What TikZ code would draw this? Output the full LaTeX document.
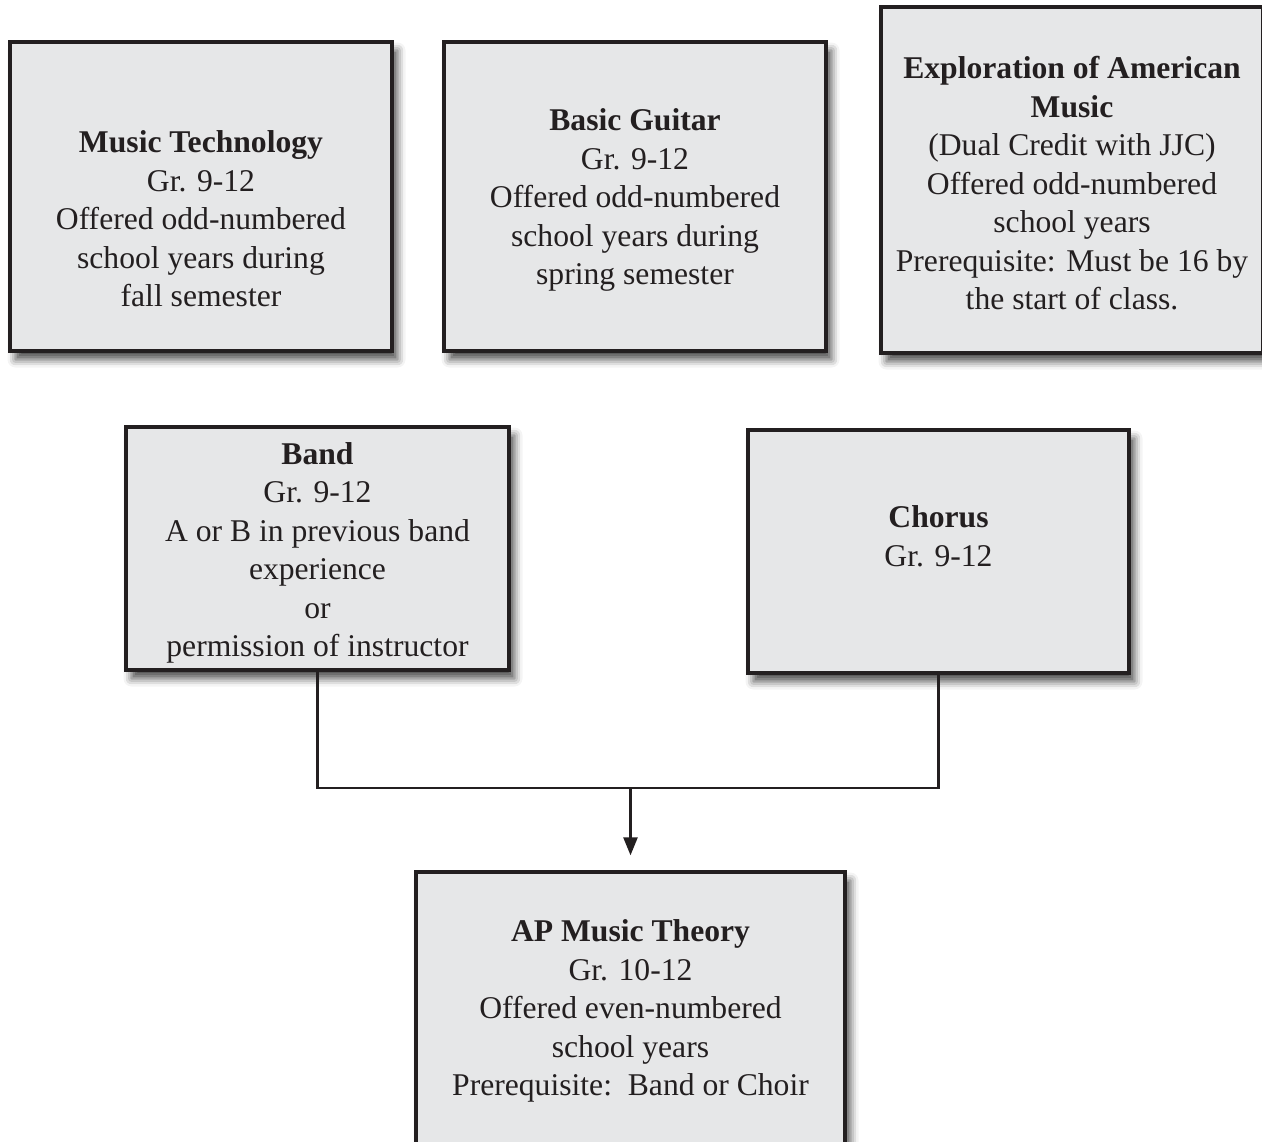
\documentclass[tikz,border=0pt]{standalone}
\usepackage{fontspec}
\setmainfont{Liberation Serif}
\usetikzlibrary{positioning,arrows.meta,shadows.blur}
\definecolor{boxgray}{HTML}{E6E7E8}
\definecolor{inkgray}{HTML}{231F20}

\begin{document}
\begin{tikzpicture}[
  course/.style={draw=inkgray, fill=boxgray, line width=1.9pt,
    blur shadow={shadow xshift=0.11cm, shadow yshift=-0.17cm,
      shadow blur radius=0.16cm, shadow opacity=70}},
  txt/.style={align=center, text=inkgray,
    font=\fontsize{18}{21.9}\selectfont},
  link/.style={draw=inkgray, line width=1.4pt}
]
\useasboundingbox (0,0) rectangle (25.24,-22.82);
\clip (0,0) rectangle (25.24,-22.82);

\def\xa{4.02};
\def\xb{12.70};
\def\xc{21.44};
\def\xd{6.35};
\def\xe{18.77};
\def\xf{12.61};

\def\ya{-3.93};
\def\yb{-3.60};
\def\yc{-10.97};
\def\yd{-11.03};
\def\ye{-20.32};
\def\yj{-15.76};

\node[course, minimum width=7.64cm, minimum height=6.18cm] (tech) at (\xa, \ya) {};
\node[course, minimum width=7.64cm, minimum height=6.18cm] (guitar) at (\xb, \ya) {};
\node[course, minimum width=7.64cm, minimum height=6.92cm] (amer) at (\xc, \yb) {};
\node[course, minimum width=7.66cm, minimum height=4.86cm] (band) at (\xd, \yc) {};
\node[course, minimum width=7.62cm, minimum height=4.86cm] (chorus) at (\xe, \yd) {};
\node[course, minimum width=8.58cm, minimum height=5.76cm] (ap) at (\xf, \ye) {};

\node[txt] at ([yshift=-0.45cm]tech.center) {\textbf{Music Technology}\\Gr. 9-12\\Offered odd-numbered\\school years during\\fall semester};
\node[txt] at ([yshift=-0.07cm]guitar.center) {\textbf{Basic Guitar}\\Gr. 9-12\\Offered odd-numbered\\school years during\\spring semester};
\node[txt] at ([yshift=-0.07cm]amer.center) {\textbf{Exploration of American}\\\textbf{Music}\\(Dual Credit with JJC)\\Offered odd-numbered\\school years\\Prerequisite: Must be 16 by\\the start of class.};
\node[txt] at ([yshift=-0.09cm]band.center) {\textbf{Band}\\Gr. 9-12\\A or B in previous band\\experience\\or\\permission of instructor};
\node[txt] at ([yshift=0.31cm]chorus.center) {\textbf{Chorus}\\Gr. 9-12};
\node[txt] at ([yshift=-2.82cm]ap.north) {\textbf{AP Music Theory}\\Gr. 10-12\\Offered even-numbered\\school years\\Prerequisite:\ \ Band or Choir};

\coordinate (bl) at (band.south |- 0, \yj);
\coordinate (cl) at (chorus.south |- 0, \yj);
\coordinate (mid) at (ap.north |- 0, \yj);
\draw[link] (band.south) -- (bl) -- (cl) -- (chorus.south);
\draw[link, -{Triangle[width=0.28cm, length=0.36cm]}, shorten >=0.3cm] (mid) -- (ap.north);
\end{tikzpicture}
\end{document}
